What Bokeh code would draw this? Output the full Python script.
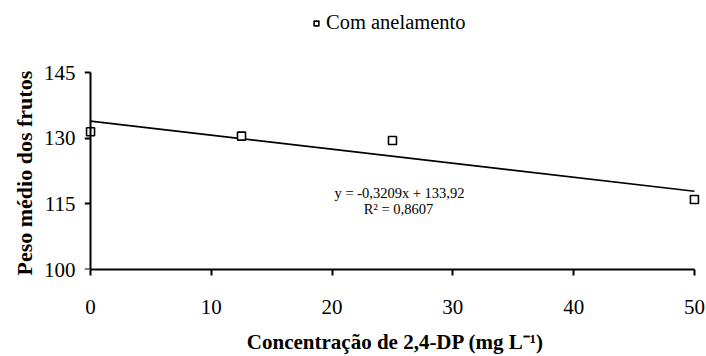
from bokeh.plotting import figure
from bokeh.models import Range1d, FixedTicker, Legend, LegendItem, Label, ColumnDataSource, LinearAxis, Title
from bokeh.embed import file_html
from bokeh.resources import INLINE

# Data
conc = [0, 12.5, 25, 50]
peso = [131.5, 130.5, 129.5, 116.0]
slope = -0.3209
intercept = 133.92
x_ticks = [0, 10, 20, 30, 40, 50]
y_ticks = [100, 115, 130, 145]
series_name = "Com anelamento"
eq_text = "y = -0,3209x + 133,92"
r2_text = "R² = 0,8607"
x_title = "Concentração de 2,4-DP (mg L⁻¹)"
y_title = "Peso médio dos frutos"

fit_x = [min(conc), max(conc)]
fit_y = [slope * v + intercept for v in fit_x]

FONT = "Liberation Serif"

p = figure(width=706, height=356, output_backend="svg", toolbar_location=None,
           x_range=Range1d(-0.5, 51), y_range=Range1d(100, 161.5), y_axis_location=None,
           min_border_left=84, min_border_right=0, min_border_top=0, min_border_bottom=84)
p.outline_line_color = None
p.grid.visible = False
p.background_fill_color = "white"
p.border_fill_color = "white"

line_r = p.line(fit_x, fit_y, line_color="black", line_width=1.6)
src = ColumnDataSource(dict(x=conc, y=peso))
sq = p.scatter("x", "y", source=src, marker="square", size=8, line_color="black",
               line_width=1.6, fill_color="white")

# y axis with tick labels (at frame edge, no line)
ylab = LinearAxis(ticker=FixedTicker(ticks=y_ticks))
ylab.axis_line_color = None
ylab.major_tick_line_color = None
ylab.major_tick_out = 0
ylab.major_tick_in = 0
ylab.minor_tick_line_color = None
ylab.major_label_standoff = 9
# y axis line and ticks at x = 0
yline = LinearAxis(ticker=FixedTicker(ticks=y_ticks), fixed_location=0, bounds=(100, 145))
yline.major_label_overrides = {t: "" for t in y_ticks}
yline.major_label_text_color = None
yline.major_label_standoff = 0
yline.axis_line_width = 2
yline.major_tick_line_width = 2
yline.major_tick_out = 6
yline.major_tick_in = 0
yline.minor_tick_line_color = None
p.add_layout(ylab, "left")
p.add_layout(yline, "left")

# y axis title, starting at the bottom of the axis
ytitle = Title(text=y_title, align="left", offset=-6, standoff=8,
               text_font=FONT, text_font_style="bold", text_font_size="22px",
               text_color="black")
p.add_layout(ytitle, "left")

xax = p.xaxis[0]
xax.ticker = FixedTicker(ticks=x_ticks)
xax.bounds = (0, 50)
xax.axis_line_width = 2
xax.major_tick_line_width = 2
xax.major_tick_out = 6
xax.major_tick_in = 0
xax.minor_tick_line_color = None
xax.major_label_standoff = 24
xax.axis_label = x_title
xax.axis_label_standoff = 13
xax.axis_label_text_font_size = "21px"

for ax in (xax, ylab):
    ax.major_label_text_font = FONT
    ax.major_label_text_font_size = "21px"
    ax.major_label_text_color = "black"
    ax.axis_label_text_font = FONT
    ax.axis_label_text_font_style = "bold"
    ax.axis_label_text_color = "black"

legend = Legend(items=[LegendItem(label=series_name, renderers=[sq])],
                location=(226, 235), orientation="horizontal",
                label_text_font=FONT, label_text_font_size="20.5px",
                label_text_color="black",
                glyph_width=12, glyph_height=12, label_standoff=4,
                border_line_color=None, background_fill_alpha=0,
                margin=0, padding=0)
p.add_layout(legend, "center")

p.add_layout(Label(x=315, y=77, x_units="screen", y_units="screen", text=eq_text,
                   text_font=FONT, text_font_size="14.5px", text_align="center",
                   text_baseline="middle", text_color="black"))
p.add_layout(Label(x=314, y=61, x_units="screen", y_units="screen", text=r2_text,
                   text_font=FONT, text_font_size="14.5px", text_align="center",
                   text_baseline="middle", text_color="black"))

open("out.html", "w").write(file_html(p, INLINE))
